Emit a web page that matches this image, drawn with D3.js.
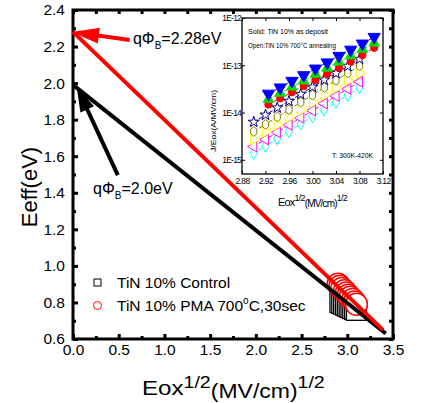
<!DOCTYPE html>
<html>
<head>
<meta charset="utf-8">
<script src="https://cdn.jsdelivr.net/npm/d3@7"></script>
<style>
  body { margin: 0; background: #fff; }
  svg { display: block; font-family: "Liberation Sans", Arial, sans-serif; }
</style>
</head>
<body>
<svg id="chart" width="427" height="403"></svg>
<script>
/*    ========    DATA    =========    */

// main plot: Eeff vs Eox^1/2
var xMajor = [0, 0.5, 1.0, 1.5, 2.0, 2.5, 3.0, 3.5];
var xMinor = [0.25, 0.75, 1.25, 1.75, 2.25, 2.75, 3.25];
var yMajor = [0.6, 0.8, 1.0, 1.2, 1.4, 1.6, 1.8, 2.0, 2.2, 2.4];
var yMinor = [0.7, 0.9, 1.1, 1.3, 1.5, 1.7, 1.9, 2.1, 2.3];

var eoxControl  = [2.92, 2.94, 2.96, 2.98, 3.00, 3.02, 3.04, 3.06, 3.08, 3.10];
var eeffControl = [0.800, 0.795, 0.791, 0.786, 0.781, 0.776, 0.772, 0.767, 0.762, 0.757];
var eoxPMA      = [2.90, 2.92, 2.94, 2.97, 2.99, 3.01, 3.03, 3.06, 3.08, 3.10];
var eeffPMA     = [0.900, 0.888, 0.876, 0.864, 0.852, 0.840, 0.828, 0.816, 0.803, 0.790];

// linear fits (extrapolated to Eox = 0)
var fitControl = [[0, 1.99], [3.42, 0.63]];
var fitPMA     = [[0, 2.28], [3.39, 0.65]];

var legendLabels = ["TiN 10% Control", "TiN 10% PMA 700"];

// inset: J/Eox vs Eox^1/2, 300K-420K
var insetXTicks = [2.88, 2.92, 2.96, 3.00, 3.04, 3.08, 3.12];
var insetYTicks = [1e-15, 1e-14, 1e-13, 1e-12];
var insetXHigh = [2.925, 2.945, 2.965, 2.985, 3.005, 3.025, 3.045, 3.065, 3.085, 3.105];
var insetXLow  = [2.900, 2.920, 2.940, 2.960, 2.980, 3.000, 3.020, 3.040, 3.060, 3.080];

var jBlue    = [2.51e-14, 3.39e-14, 4.68e-14, 6.17e-14, 8.51e-14, 1.15e-13, 1.58e-13, 2.14e-13, 2.88e-13, 3.98e-13];
var jGreen   = [1.91e-14, 2.57e-14, 3.47e-14, 4.68e-14, 6.46e-14, 8.71e-14, 1.17e-13, 1.58e-13, 2.19e-13, 2.95e-13];
var jRed     = [1.48e-14, 2.00e-14, 2.69e-14, 3.63e-14, 4.90e-14, 6.60e-14, 8.90e-14, 1.20e-13, 1.65e-13, 2.35e-13];
var jStar    = [6.30e-15, 8.90e-15, 1.26e-14, 1.74e-14, 2.45e-14, 3.47e-14, 4.90e-14, 6.76e-14, 9.55e-14, 1.35e-13];
var jOlive   = [3.98e-15, 5.60e-15, 8.10e-15, 1.15e-14, 1.66e-14, 2.34e-14, 3.39e-14, 4.79e-14, 6.90e-14, 9.80e-14];
var jYellow  = [2.69e-15, 3.89e-15, 5.50e-15, 7.90e-15, 1.12e-14, 1.62e-14, 2.34e-14, 3.31e-14, 4.79e-14, 6.76e-14];
var jMagenta = [1.91e-15, 2.69e-15, 3.80e-15, 5.50e-15, 7.76e-15, 1.10e-14, 1.55e-14, 2.24e-14, 3.16e-14, 4.47e-14];
var jCyan    = [1.38e-15, 1.95e-15, 2.82e-15, 3.98e-15, 5.75e-15, 8.13e-15, 1.15e-14, 1.66e-14, 2.34e-14, 3.39e-14];

/*    ========    SETTINGS    =========    */

var svg = d3.select("#chart");
var margin = {top: 10, right: 34, bottom: 64, left: 73};
var W = 427, H = 403;

var x = d3.scaleLinear().domain([0, 3.5]).range([margin.left, W - margin.right]);
var y = d3.scaleLinear().domain([0.6, 2.4]).range([H - margin.bottom, margin.top]);

var fmt1 = d3.format(".1f");

/*    ========    FUNCTIONS    =========    */

function styleTicks(g, w) {
    g.select(".domain").remove();
    g.selectAll(".tick line").attr("stroke", "#000").attr("stroke-width", w);
}

function arrow(g, x1, y1, x2, y2, color, headLen, headW, lw) {
    var dx = x2 - x1, dy = y2 - y1, L = Math.hypot(dx, dy);
    var ux = dx / L, uy = dy / L;
    var bx = x2 - ux * headLen, by = y2 - uy * headLen;
    g.append("line")
        .attr("x1", x1).attr("y1", y1)
        .attr("x2", bx + ux * 3).attr("y2", by + uy * 3)
        .attr("stroke", color).attr("stroke-width", lw);
    g.append("path")
        .attr("d", "M" + x2 + "," + y2 +
            "L" + (bx - uy * headW) + "," + (by + ux * headW) +
            "L" + (bx + uy * headW) + "," + (by - ux * headW) + "Z")
        .attr("fill", color);
}

// hexagon symbol (tall), not in d3
var symbolHex = {
    draw: function(ctx, size) {
        var r = Math.sqrt(size / 2.598);
        for (var i = 0; i < 6; i++) {
            var a = Math.PI / 2 + i * Math.PI / 3;
            var px = r * Math.cos(a) * 0.85, py = r * Math.sin(a) * 1.15;
            if (i === 0) ctx.moveTo(px, py); else ctx.lineTo(px, py);
        }
        ctx.closePath();
    }
};

/*    ========    MAIN PLOT    =========    */

function drawMain() {
    // ticks (inward, all four sides)
    var gx = svg.append("g").attr("transform", "translate(0," + y(0.6) + ")")
        .call(d3.axisBottom(x).tickValues(xMajor).tickSize(-5).tickSizeOuter(0)
            .tickPadding(5).tickFormat(fmt1));
    styleTicks(gx, 3);
    gx.attr("font-size", 15.5).attr("font-family", null);

    var gxm = svg.append("g").attr("transform", "translate(0," + y(0.6) + ")")
        .call(d3.axisBottom(x).tickValues(xMinor).tickSize(-3).tickFormat(""));
    styleTicks(gxm, 3);

    var gy = svg.append("g").attr("transform", "translate(" + x(0) + ",0)")
        .call(d3.axisLeft(y).tickValues(yMajor).tickSize(-5).tickSizeOuter(0)
            .tickPadding(8).tickFormat(fmt1));
    styleTicks(gy, 3);
    gy.attr("font-size", 15.5).attr("font-family", null);

    var gym = svg.append("g").attr("transform", "translate(" + x(0) + ",0)")
        .call(d3.axisLeft(y).tickValues(yMinor).tickSize(-3).tickFormat(""));
    styleTicks(gym, 3);

    var gt = svg.append("g").attr("transform", "translate(0," + y(2.4) + ")")
        .call(d3.axisTop(x).tickValues(xMajor.concat(xMinor)).tickSize(-4).tickFormat(""));
    styleTicks(gt, 3);

    var gr = svg.append("g").attr("transform", "translate(" + x(3.5) + ",0)")
        .call(d3.axisRight(y).tickValues(yMajor.concat(yMinor)).tickSize(-4).tickFormat(""));
    styleTicks(gr, 3);

    // frame
    svg.append("rect")
        .attr("x", x(0)).attr("y", y(2.4))
        .attr("width", x(3.5) - x(0)).attr("height", y(0.6) - y(2.4))
        .attr("fill", "none").attr("stroke", "#000").attr("stroke-width", 3);

    // data markers
    svg.append("g").selectAll("rect")
        .data(d3.zip(eoxControl, eeffControl)).enter()
        .append("rect")
        .attr("x", function(d) { return x(d[0]) - 10; })
        .attr("y", function(d) { return y(d[1]) - 10; })
        .attr("width", 20).attr("height", 20)
        .attr("fill", "#fff").attr("stroke", "#000").attr("stroke-width", 1.3);

    svg.append("g").selectAll("circle")
        .data(d3.zip(eoxPMA, eeffPMA)).enter()
        .append("circle")
        .attr("cx", function(d) { return x(d[0]); })
        .attr("cy", function(d) { return y(d[1]); })
        .attr("r", 11)
        .attr("fill", "#fff").attr("stroke", "#f00").attr("stroke-width", 1.5);

    // fit lines
    var line = d3.line().x(function(d) { return x(d[0]); }).y(function(d) { return y(d[1]); });
    svg.append("path").datum(fitControl).attr("d", line)
        .attr("stroke", "#000").attr("stroke-width", 4).attr("fill", "none");
    svg.append("path").datum(fitPMA).attr("d", line)
        .attr("stroke", "#f00").attr("stroke-width", 4).attr("fill", "none");

    // annotations
    var ga = svg.append("g");
    arrow(ga, x(0.62), y(2.236), x(-0.01), y(2.28), "#f00", 27, 8, 4);
    arrow(ga, x(0.49), y(1.497), x(0.04), y(1.98), "#000", 25, 7.5, 4);

    var t1 = svg.append("text").attr("x", x(0.656)).attr("y", y(2.214)).attr("font-size", 16);
    t1.append("tspan").text("q\u03A6");
    t1.append("tspan").attr("font-size", 10).attr("dy", 5).text("B");
    t1.append("tspan").attr("dy", -5).text("=2.28eV");

    var t2 = svg.append("text").attr("x", x(0.22)).attr("y", y(1.393)).attr("font-size", 16);
    t2.append("tspan").text("q\u03A6");
    t2.append("tspan").attr("font-size", 10).attr("dy", 5).text("B");
    t2.append("tspan").attr("dy", -5).text("=2.0eV");

    // legend
    var lg = svg.append("g").attr("font-size", 15.5);
    lg.append("rect").attr("x", 94).attr("y", 279).attr("width", 7).attr("height", 7)
        .attr("fill", "none").attr("stroke", "#000").attr("stroke-width", 1);
    lg.append("text").attr("x", 117).attr("y", 288).text(legendLabels[0]);
    lg.append("circle").attr("cx", 97.5).attr("cy", 305.5).attr("r", 4)
        .attr("fill", "none").attr("stroke", "#f00").attr("stroke-width", 1);
    var l2 = lg.append("text").attr("x", 117).attr("y", 311);
    l2.append("tspan").text(legendLabels[1]);
    l2.append("tspan").attr("font-size", 10).attr("dy", -7).text("o");
    l2.append("tspan").attr("dy", 7).text("C,30sec");

    // axis titles
    svg.append("text")
        .attr("transform", "translate(37," + 187 + ") rotate(-90)")
        .attr("text-anchor", "middle").attr("font-size", 22)
        .text("Eeff(eV)");

    var xt = svg.append("text").attr("x", 0).attr("y", 395).attr("font-size", 21)
        .attr("transform", "translate(142,0) scale(1.15,1)");
    xt.append("tspan").text("Eox");
    xt.append("tspan").attr("font-size", 17).attr("y", 388).text("1/2");
    xt.append("tspan").attr("font-size", 20).attr("y", 398).text("(MV/cm)");
    xt.append("tspan").attr("font-size", 17).attr("y", 388).text("1/2");
}

/*    ========    INSET    =========    */

function drawInset() {
    var ix = d3.scaleLinear().domain([2.88, 3.12]).range([242, 383]);
    var iy = d3.scaleLog().domain([Math.pow(10, -15.3), 1e-12]).range([174, 18]);

    var g = svg.append("g");
    g.append("rect").attr("x", 242).attr("y", 18).attr("width", 141).attr("height", 156)
        .attr("fill", "#fff");

    var bx = g.append("g").attr("transform", "translate(0,174)")
        .call(d3.axisBottom(ix).tickValues(insetXTicks).tickSize(-3).tickPadding(4)
            .tickFormat(d3.format(".2f")));
    styleTicks(bx, 1);
    bx.attr("font-size", 8.5).attr("font-family", null).attr("letter-spacing", -0.6);

    var ly = g.append("g").attr("transform", "translate(242,0)")
        .call(d3.axisLeft(iy).tickValues(insetYTicks).tickSize(-3).tickPadding(1)
            .tickFormat(function(d) { return "1E" + Math.round(Math.log10(d)); }));
    styleTicks(ly, 1);
    ly.attr("font-size", 8.5).attr("font-family", null).attr("letter-spacing", -0.8);

    var tx = g.append("g").attr("transform", "translate(0,18)")
        .call(d3.axisTop(ix).tickValues(insetXTicks).tickSize(-3).tickFormat(""));
    styleTicks(tx, 1);
    var ry = g.append("g").attr("transform", "translate(383,0)")
        .call(d3.axisRight(iy).tickValues(insetYTicks).tickSize(-3).tickFormat(""));
    styleTicks(ry, 1);

    g.append("rect").attr("x", 242).attr("y", 18).attr("width", 141).attr("height", 156)
        .attr("fill", "none").attr("stroke", "#000").attr("stroke-width", 1.3);

    var series = [
        {xs: insetXLow,  ys: jCyan,    color: "#00ffff", type: d3.symbolDiamond,  size: 45, rot: 0,   fill: false},
        {xs: insetXLow,  ys: jMagenta, color: "#ff00ff", type: d3.symbolTriangle, size: 50, rot: -90, fill: false},
        {xs: insetXLow,  ys: jYellow,  color: "#ffff00", type: d3.symbolTriangle, size: 50, rot: 90,  fill: false},
        {xs: insetXLow,  ys: jOlive,   color: "#808000", type: symbolHex,         size: 45, rot: 0,   fill: false},
        {xs: insetXLow,  ys: jStar,    color: "#000080", type: d3.symbolStar,     size: 38, rot: 0,   fill: false},
        {xs: insetXHigh, ys: jRed,     color: "#ff0000", type: d3.symbolCircle,   size: 42, rot: 0,   fill: true},
        {xs: insetXHigh, ys: jGreen,   color: "#00dd00", type: d3.symbolTriangle, size: 48, rot: 0,   fill: true},
        {xs: insetXHigh, ys: jBlue,    color: "#0000ff", type: d3.symbolTriangle, size: 64, rot: 180, fill: true}
    ];

    var iline = d3.line().x(function(d) { return ix(d[0]); }).y(function(d) { return iy(d[1]); });

    series.forEach(function(s) {
        var pts = d3.zip(s.xs, s.ys);
        g.append("path").datum(pts).attr("d", iline)
            .attr("fill", "none").attr("stroke", s.color).attr("stroke-width", 1)
            .attr("stroke-dasharray", "4,2");
        g.append("g").selectAll("path")
            .data(pts).enter().append("path")
            .attr("d", d3.symbol().type(s.type).size(s.size))
            .attr("transform", function(d) {
                return "translate(" + ix(d[0]) + "," + iy(d[1]) + ") rotate(" + s.rot + ")";
            })
            .attr("fill", s.fill ? s.color : "#fff")
            .attr("stroke", s.color).attr("stroke-width", 1);
    });

    // inset texts
    g.append("text").attr("x", 248).attr("y", 34).attr("font-size", 7.5)
        .attr("textLength", 80).attr("lengthAdjust", "spacingAndGlyphs")
        .text("Solid: TiN 10% as deposit");
    g.append("text").attr("x", 248).attr("y", 48).attr("font-size", 7.5)
        .attr("textLength", 88).attr("lengthAdjust", "spacingAndGlyphs")
        .text("Open:TiN 10% 700\u00B0C annealing");
    g.append("text").attr("x", 332).attr("y", 158).attr("font-size", 8)
        .attr("textLength", 41).attr("lengthAdjust", "spacingAndGlyphs")
        .text("T: 300K-420K");

    g.append("text")
        .attr("transform", "translate(216,121) rotate(-90)")
        .attr("text-anchor", "middle").attr("font-size", 8)
        .attr("textLength", 62).attr("lengthAdjust", "spacingAndGlyphs")
        .text("J/Eox(A/MV/cm)");

    var it = g.append("text").attr("x", 278).attr("y", 206).attr("font-size", 11)
        .attr("letter-spacing", -0.8);
    it.append("tspan").text("Eox");
    it.append("tspan").attr("font-size", 9).attr("y", 201).text("1/2");
    it.append("tspan").attr("font-size", 10).attr("y", 207).text("(MV/cm)");
    it.append("tspan").attr("font-size", 9).attr("y", 201).text("1/2");
}

/*    ========    RUN    =========    */

drawMain();
drawInset();
</script>
</body>
</html>
